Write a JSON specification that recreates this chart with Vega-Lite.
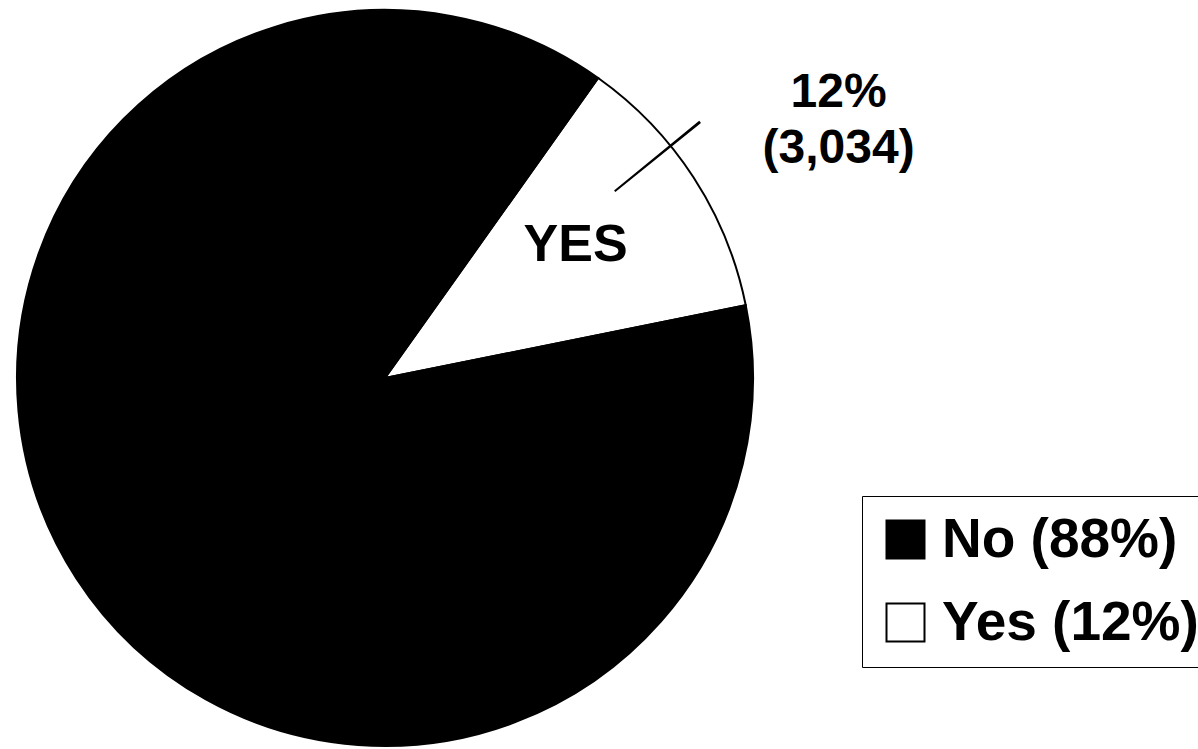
{
  "$schema": "https://vega.github.io/schema/vega-lite/v6.json",
  "width": 770,
  "height": 756,
  "autosize": {"type": "none"},
  "padding": {"left": 0, "top": 0, "right": 428, "bottom": 0},
  "background": "white",
  "config": {"view": {"stroke": null}, "font": "Liberation Sans"},
  "layer": [
    {
      "data": {
        "values": [
          {"answer": "Yes (12%)", "value": 12, "ord": 1, "inner": "YES", "outer": "12%\n(3,034)"},
          {"answer": "No (88%)", "value": 88, "ord": 2, "inner": "", "outer": ""}
        ]
      },
      "encoding": {
        "theta": {"field": "value", "type": "quantitative", "stack": true, "scale": {"range": [0.6178, 6.901]}},
        "order": {"field": "ord", "type": "quantitative"}
      },
      "layer": [
        {
          "mark": {"type": "arc", "outerRadius": 368, "stroke": "black", "strokeWidth": 2},
          "encoding": {
            "color": {
              "field": "answer",
              "type": "nominal",
              "scale": {"domain": ["No (88%)", "Yes (12%)"], "range": ["black", "white"]},
              "legend": {
                "title": null,
                "orient": "none",
                "legendX": 862,
                "legendY": 496,
                "symbolType": "square",
                "symbolSize": 1444,
                "symbolStrokeColor": "black",
                "symbolStrokeWidth": 2,
                "labelFontSize": 55,
                "labelFontWeight": "bold",
                "labelFont": "Liberation Sans",
                "labelColor": "black",
                "labelOffset": 9,
                "labelLimit": 0,
                "rowPadding": 27,
                "padding": 16,
                "strokeColor": "black"
              }
            }
          }
        },
        {
          "mark": {"type": "text", "radius": 232, "fontSize": 52, "fontWeight": "bold", "color": "black", "dx": -4, "dy": -7},
          "encoding": {"text": {"field": "inner", "type": "nominal"}}
        },
        {
          "mark": {"type": "text", "radius": 529, "fontSize": 48, "fontWeight": "bold", "color": "black", "baseline": "alphabetic", "lineBreak": "\n", "lineHeight": 56, "dx": 10, "dy": 17},
          "encoding": {"text": {"field": "outer", "type": "nominal"}}
        }
      ]
    },
    {
      "data": {"values": [{"t1": 50.7, "t2": 51.1}]},
      "mark": {"type": "arc", "innerRadius": 296, "outerRadius": 406, "fill": "black"},
      "encoding": {
        "theta": {"field": "t1", "type": "quantitative", "scale": {"domain": [0, 360], "range": [0, 6.2832]}},
        "theta2": {"field": "t2"}
      }
    }
  ],
  "resolve": {"scale": {"theta": "independent"}}
}
